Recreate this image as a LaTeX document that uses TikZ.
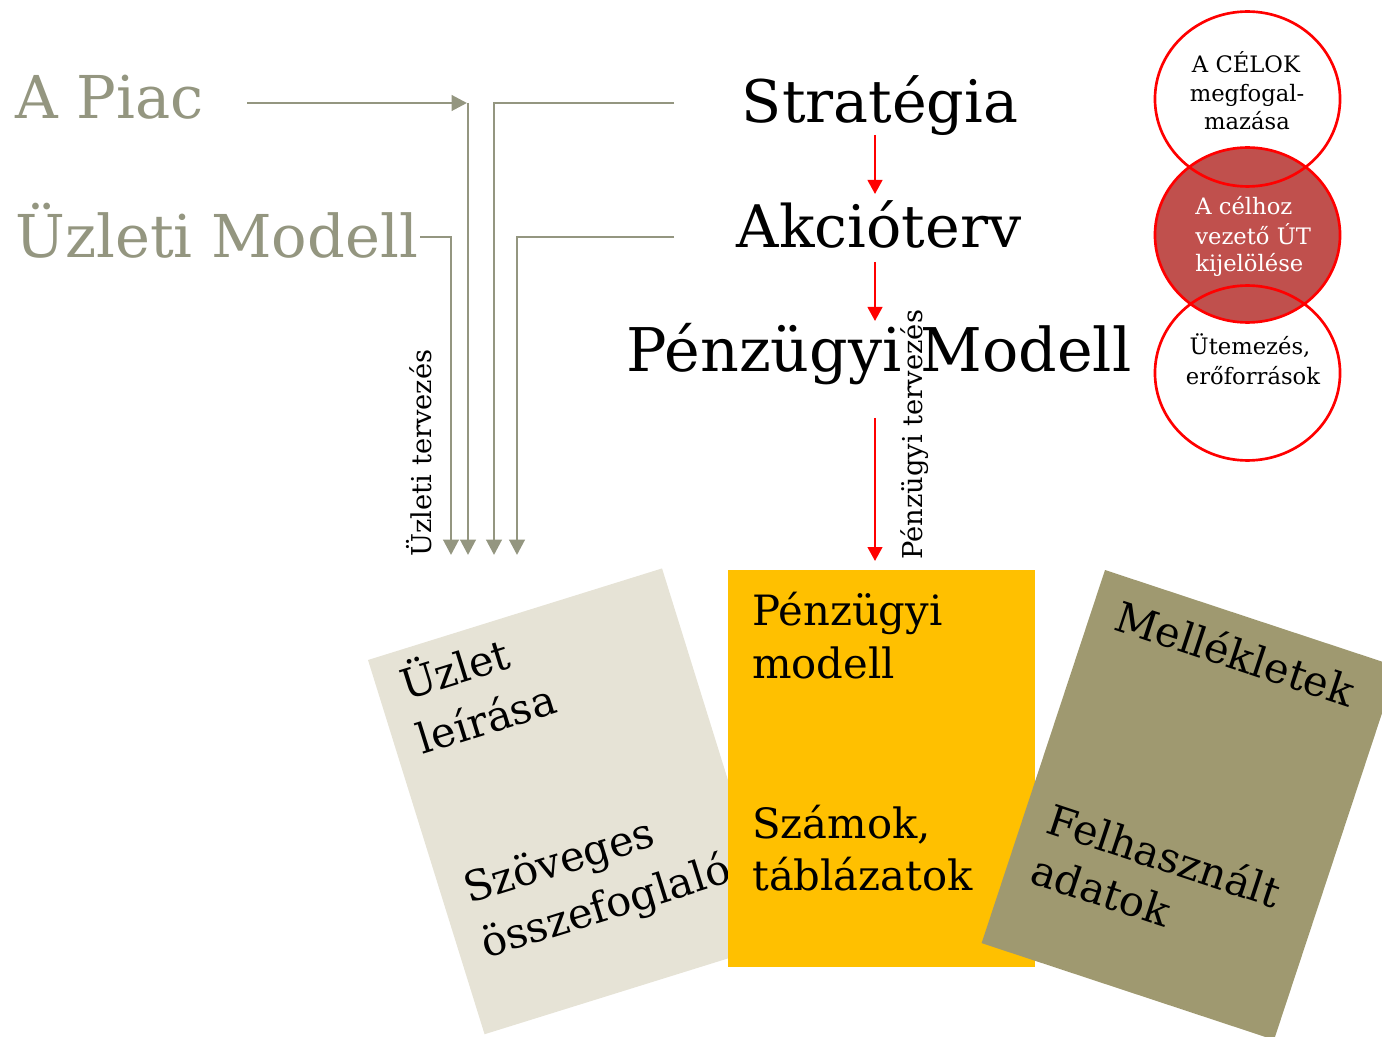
\documentclass[tikz,border=0pt]{standalone}
\usepackage{fontspec}
\setmainfont{DejaVu Serif}
\usetikzlibrary{arrows.meta}
\definecolor{grayc}{RGB}{148,150,128}
\definecolor{cardA}{RGB}{230,227,214}
\definecolor{cardC}{RGB}{159,153,112}
\definecolor{yel}{RGB}{255,192,0}
\definecolor{midfill}{RGB}{192,80,77}
\definecolor{redc}{RGB}{255,0,0}
\tikzset{
  graylbl/.style={text=grayc, inner sep=0pt, font=\fontsize{44.3}{53}\selectfont},
  mainlbl/.style={text=black, inner sep=0pt, font=\fontsize{44}{53}\selectfont},
  cardtxt/.style={text=black, inner sep=0pt, anchor=base west, transform shape, font=\fontsize{31.3}{40}\selectfont},
  rottxt/.style={text=black, inner sep=0pt, anchor=base west, rotate=90, font=\fontsize{20.5}{24}\selectfont},
  circtxt/.style={inner sep=0pt, font=\fontsize{17}{21}\selectfont},
  grayarr/.style={draw=grayc, line width=2.2pt, -{Triangle[width=11.5pt,length=11.5pt]}},
  redarr/.style={draw=redc, line width=1.7pt, -{Triangle[width=11pt,length=10.5pt]}},
  circstroke/.style={draw=redc, line width=2pt}
}
\begin{document}
\begin{tikzpicture}[x=0.75pt,y=-0.75pt]
\useasboundingbox (0,0) rectangle (1382,1037);
\clip (0,0) rectangle (1382,1037);

% ---------- cards ----------
\begin{scope}[shift={(368,660)}, rotate=17.3]
  \fill[cardA] (0,0) rectangle (308,392);
  \node[cardtxt] (ca1) at (24,50) {Üzlet};
  \node[cardtxt] (ca2) at (24,107) {leírása};
  \node[cardtxt] (ca3) at (24,263) {Szöveges};
  \node[cardtxt] (ca4) at (24,320) {összefoglaló};
\end{scope}

\fill[yel] (728,570) rectangle (1035,967);
\node[cardtxt] (cb1) at (752,625) {Pénzügyi};
\node[cardtxt] (cb2) at (752,678) {modell};
\node[cardtxt] (cb3) at (752,838) {Számok,};
\node[cardtxt] (cb4) at (752,890) {táblázatok};

\begin{scope}[shift={(1105,570)}, rotate=-18.3]
  \fill[cardC] (0,0) rectangle (308,393);
  \node[cardtxt] (cc1) at (25,54) {Mellékletek};
  \node[cardtxt] (cc2) at (25,268) {Felhasznált};
  \node[cardtxt] (cc3) at (25,321) {adatok};
\end{scope}

% ---------- left labels ----------
\node[graylbl, anchor=base west] (piac) at (15,119) {A Piac};
\node[graylbl, anchor=base west] (umodell) at (15,258) {Üzleti Modell};

% ---------- main labels ----------
\node[mainlbl, anchor=base] (strat) at (880,123) {Stratégia};
\node[mainlbl, anchor=base] (akcio) at (879,248) {Akcióterv};
\node[mainlbl, anchor=base, font=\fontsize{45.2}{54}\selectfont] (pmodell) at (879,372) {Pénzügyi Modell};

% ---------- gray connectors ----------
\coordinate (piacA) at (247,103);
\coordinate (piacB) at (467,103);
\coordinate (colA) at (468,103);
\coordinate (tipA) at (468,555);
\coordinate (umA) at (420,237);
\coordinate (tipB) at (451,555);
\coordinate (stA) at (674,103);
\coordinate (tipC) at (494,555);
\coordinate (akA) at (674,237);
\coordinate (tipD) at (517,555);
\draw[grayarr] (piacA) -- (piacB);
\draw[grayarr] (colA) -- (tipA);
\draw[grayarr] (umA) -| (tipB);
\draw[grayarr] (stA) -| (tipC);
\draw[grayarr] (akA) -| (tipD);

% ---------- red connectors ----------
\coordinate (r1a) at (875,135);
\coordinate (r1b) at (875,194);
\coordinate (r2a) at (875,262);
\coordinate (r2b) at (875,321);
\coordinate (r3a) at (875,418);
\coordinate (r3b) at (875,561);
\draw[redarr] (r1a) -- (r1b);
\draw[redarr] (r2a) -- (r2b);
\draw[redarr] (r3a) -- (r3b);

% ---------- rotated labels ----------
\node[rottxt] (uterv) at (431,557) {Üzleti tervezés};
\node[rottxt] (pterv) at (922,560) {Pénzügyi tervezés};

% ---------- circles ----------
\fill[white] (1247.5,99) ellipse [x radius=69.4pt, y radius=65.6pt];
\fill[midfill] (1247.5,235) ellipse [x radius=69.4pt, y radius=65.6pt];
\draw[circstroke] (1247.5,99) ellipse [x radius=69.4pt, y radius=65.6pt];
\draw[circstroke] (1247.5,235) ellipse [x radius=69.4pt, y radius=65.6pt];
\draw[circstroke] (1247.5,373) ellipse [x radius=69.4pt, y radius=65.6pt];

\node[circtxt, anchor=base] (k1) at (1246,73) {A CÉLOK};
\node[circtxt, anchor=base] (k2) at (1247,102) {megfogal-};
\node[circtxt, anchor=base] (k3) at (1247,130) {mazása};
\node[circtxt, anchor=base west, text=white] (m1) at (1195,215) {A célhoz};
\node[circtxt, anchor=base west, text=white] (m2) at (1195,245) {vezető ÚT};
\node[circtxt, anchor=base west, text=white] (m3) at (1195,272) {kijelölése};
\node[circtxt, anchor=base] (b1) at (1250,355) {Ütemezés,};
\node[circtxt, anchor=base] (b2) at (1253,385) {erőforrások};
\end{tikzpicture}
\end{document}
